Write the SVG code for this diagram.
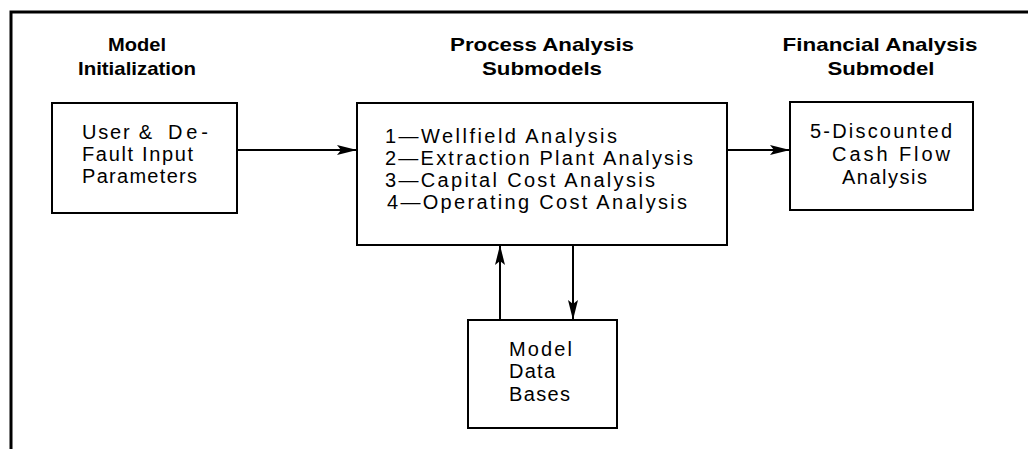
<svg xmlns="http://www.w3.org/2000/svg" width="1028" height="449" viewBox="0 0 1028 449">
  <style>
    .frame { fill: none; stroke: #000; stroke-width: 3; }
    .box { fill: #fff; stroke: #000; stroke-width: 2; }
    .head { font-family: "Liberation Sans", Arial, sans-serif; font-weight: bold; font-size: 19px; fill: #000; }
    .body { font-family: "Liberation Sans", Arial, sans-serif; font-size: 20px; fill: #000; }
    .conn { fill: none; stroke: #000; stroke-width: 2; }
  </style>
  <defs>
    <marker id="arrow" markerUnits="userSpaceOnUse" markerWidth="22" markerHeight="12" refX="20" refY="6" orient="auto">
      <path d="M0,1 L20,6 L0,11 L4,6 Z" fill="#000"/>
    </marker>
  </defs>
  <rect width="1028" height="449" fill="#fff"/>
  <g id="frame">
    <path class="frame" d="M11,449 L11,12 L1028,12"/>
  </g>
  <g id="headings">
    <text class="head" x="137" y="51" text-anchor="middle" textLength="58" lengthAdjust="spacingAndGlyphs">Model</text>
    <text class="head" x="137" y="75" text-anchor="middle" textLength="118" lengthAdjust="spacingAndGlyphs">Initialization</text>
    <text class="head" x="542" y="51" text-anchor="middle" textLength="184" lengthAdjust="spacingAndGlyphs">Process Analysis</text>
    <text class="head" x="542" y="75" text-anchor="middle" textLength="120" lengthAdjust="spacingAndGlyphs">Submodels</text>
    <text class="head" x="880" y="51" text-anchor="middle" textLength="195" lengthAdjust="spacingAndGlyphs">Financial Analysis</text>
    <text class="head" x="881" y="75" text-anchor="middle" textLength="107" lengthAdjust="spacingAndGlyphs">Submodel</text>
  </g>
  <g id="node-input">
    <rect class="box" x="52" y="103" width="185" height="110"/>
    <text class="body" y="139"><tspan x="82" textLength="70" lengthAdjust="spacing">User &amp;</tspan> <tspan x="168" textLength="40" lengthAdjust="spacing">De-</tspan></text>
    <text class="body" x="82" y="161" textLength="111" lengthAdjust="spacing">Fault Input</text>
    <text class="body" x="82" y="183" textLength="115" lengthAdjust="spacing">Parameters</text>
  </g>
  <g id="node-process">
    <rect class="box" x="357" y="103" width="370" height="142"/>
    <text class="body" x="385" y="143" textLength="232" lengthAdjust="spacing">1—Wellfield Analysis</text>
    <text class="body" x="385" y="165" textLength="308" lengthAdjust="spacing">2—Extraction Plant Analysis</text>
    <text class="body" x="385" y="187" textLength="270" lengthAdjust="spacing">3—Capital Cost Analysis</text>
    <text class="body" x="387" y="209" textLength="300" lengthAdjust="spacing">4—Operating Cost Analysis</text>
  </g>
  <g id="node-financial">
    <rect class="box" x="790" y="102" width="183" height="108"/>
    <text class="body" x="810" y="138" textLength="142" lengthAdjust="spacing">5-Discounted</text>
    <text class="body" x="832" y="161" textLength="118" lengthAdjust="spacing">Cash Flow</text>
    <text class="body" x="842" y="184" textLength="85" lengthAdjust="spacing">Analysis</text>
  </g>
  <g id="node-databases">
    <rect class="box" x="468" y="320" width="149" height="108"/>
    <text class="body" x="509" y="356" textLength="63" lengthAdjust="spacing">Model</text>
    <text class="body" x="509" y="378" textLength="46" lengthAdjust="spacing">Data</text>
    <text class="body" x="509" y="401" textLength="61" lengthAdjust="spacing">Bases</text>
  </g>
  <g id="connectors">
    <path class="conn" d="M237,150 L357,150" marker-end="url(#arrow)"/>
    <path class="conn" d="M727,150 L790,150" marker-end="url(#arrow)"/>
    <path class="conn" d="M500,320 L500,245" marker-end="url(#arrow)"/>
    <path class="conn" d="M573,245 L573,320" marker-end="url(#arrow)"/>
  </g>
</svg>
